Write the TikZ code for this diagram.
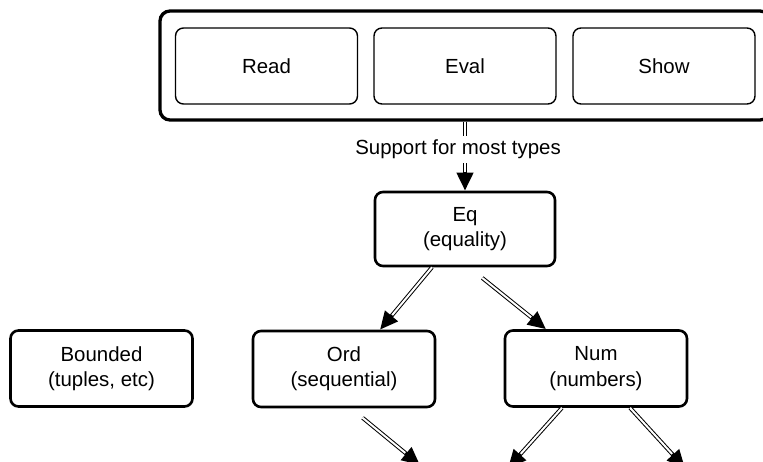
\documentclass[tikz,border=0pt]{standalone}
\usepackage{fontspec}
\setmainfont{Liberation Sans}
\usetikzlibrary{arrows.meta}

\begin{document}
\begin{tikzpicture}[x=1bp,y=-1bp,font=\fontsize{20.5}{25.5}\selectfont]
\tikzstyle{frame} = [draw=black, line width=3.3bp, rounded corners=10bp, minimum width=610bp, minimum height=109bp, inner sep=0pt]
\tikzstyle{part} = [draw=black, line width=1.4bp, rounded corners=8bp, minimum width=182bp, minimum height=76bp, inner sep=0pt]
\tikzstyle{cls} = [draw=black, line width=2.6bp, rounded corners=8bp, minimum width=182bp, minimum height=76bp, align=center, inner sep=0pt]
\tikzstyle{edge} = [draw=black, line width=4bp, -{Triangle[length=18bp,width=16bp]},
  postaction={draw=white, line width=2bp, -, shorten >=19bp}]

\path[use as bounding box, clip] (0,0) rectangle (763,462);

\node[frame] (frame) at (465,65.5) {};
\node[part] (read) at (266.5,66) {Read};
\node[part] (eval) at (465,66) {Eval};
\node[part] (show) at (664,66) {Show};

\node[cls, minimum width=180bp, minimum height=74bp] (eq) at (465,229) {Eq\\(equality)};
\node[cls] (bounded) at (101.5,368.5) {Bounded\\(tuples, etc)};
\node[cls] (ord) at (344,369) {Ord\\(sequential)};
\node[cls] (num) at (596,368.5) {Num\\(numbers)};

\coordinate (o1) at (420,465);
\coordinate (n1) at (508,468);
\coordinate (n2) at (685,468);

\draw[edge] (frame.south -| eq.north) -- node[pos=0.4, xshift=-7bp, fill=white, inner sep=4bp] (sup) {Support for most types} (eq.north);
\draw[edge] ([xshift=-33bp]eq.south) -- ([xshift=36bp]ord.north);
\draw[edge, shorten <=17bp] ([xshift=4bp]eq.south) -- ([xshift=-50bp]num.north);
\draw[edge, shorten <=15bp] ([xshift=7bp]ord.south) -- (o1);
\draw[edge] ([xshift=-34bp]num.south) -- (n1);
\draw[edge] ([xshift=34bp]num.south) -- (n2);
\end{tikzpicture}
\end{document}
